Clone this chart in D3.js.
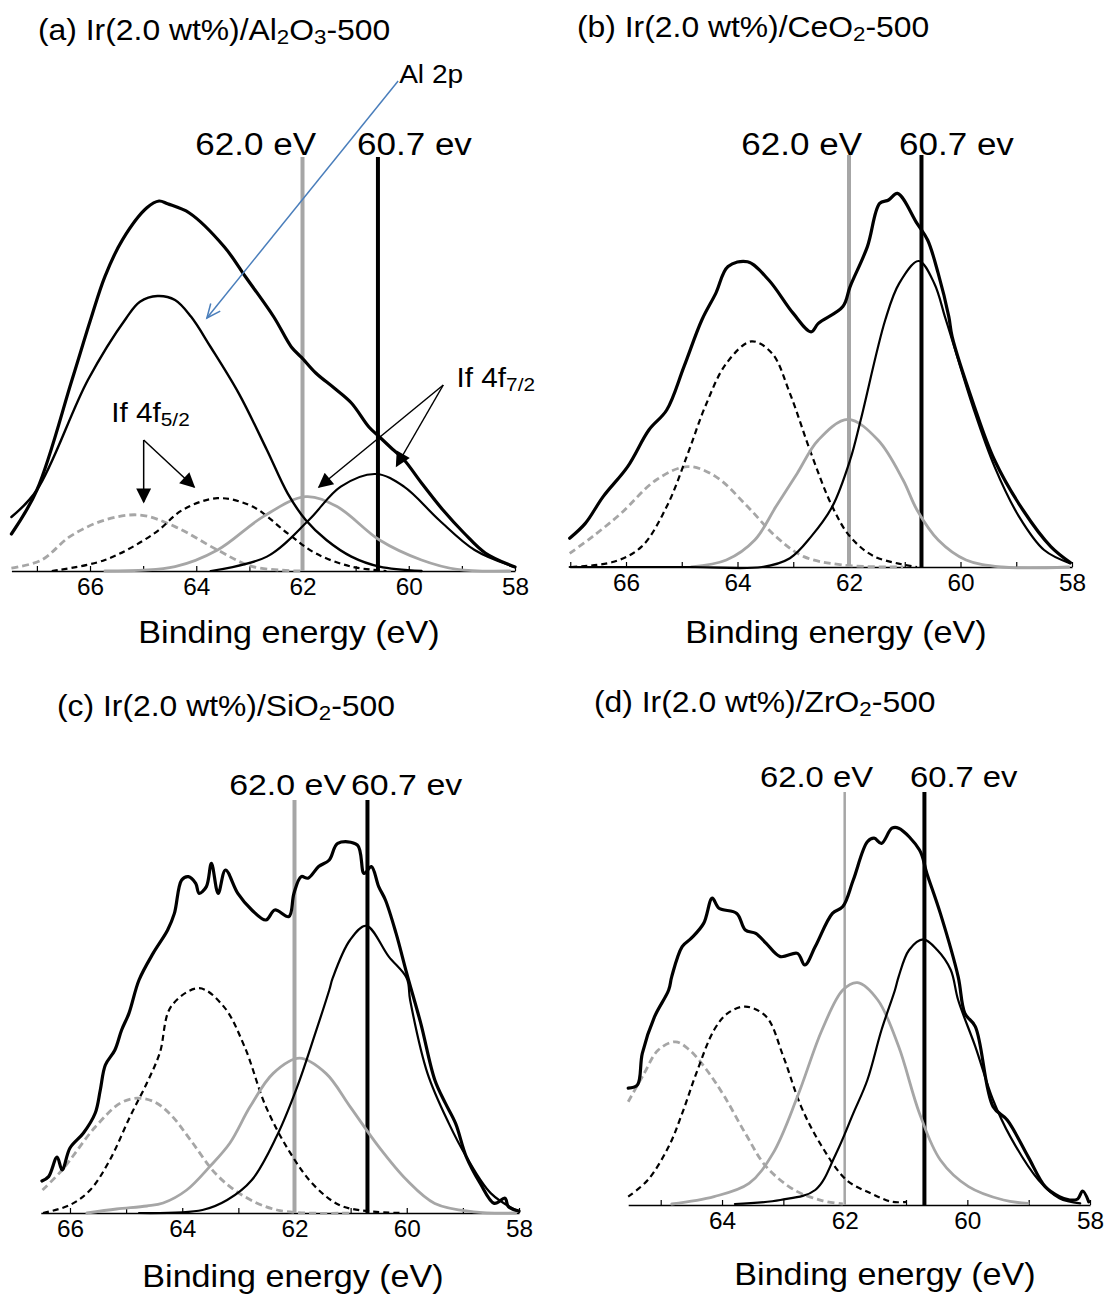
<!DOCTYPE html>
<html><head><meta charset="utf-8">
<script src="https://cdn.jsdelivr.net/npm/d3@7"></script>
<style>
body{margin:0;background:#fff}
svg{display:block}
text{font-family:"Liberation Sans",Arial,Helvetica,sans-serif;fill:#000}
</style>
</head><body>
<svg id="chart" width="1104" height="1294"></svg>
<script>
// ---------------- DATA (binding energy eV, intensity a.u.) ----------------
const tickLabels = [66, 64, 62, 60, 58];
const markerLabels = ["62.0 eV", "60.7 ev"];
const axisTitle = "Binding energy (eV)";

const titleA = [["(a) Ir(2.0 wt%)/Al",0],["2",1],["O",0],["3",1],["-500",0]];
const titleB = [["(b) Ir(2.0 wt%)/CeO",0],["2",1],["-500",0]];
const titleC = [["(c) Ir(2.0 wt%)/SiO",0],["2",1],["-500",0]];
const titleD = [["(d) Ir(2.0 wt%)/ZrO",0],["2",1],["-500",0]];

const markersA = [62.0, 60.58];
const markersB = [62.0, 60.7];
const markersC = [62.0, 60.7];
const markersD = [62.0, 60.7];

// (a) Al2O3
const aEnvelope = [[67.48,9.25],[67.0,20.25],[66.34,47.75],[65.99,62.8],[65.72,73.6],[65.39,82.8],[64.93,90.8],[64.7,92.5],[64.54,91.8],[64.13,89.5],[63.47,81],[63.07,73.5],[62.54,63.5],[62.21,56],[62.05,53.8],[62.01,53.3],[61.75,49.5],[61.41,45.8],[61.08,42],[60.75,36],[60.55,33.5],[60.35,31],[60.09,27.8],[59.76,22],[59.36,15.3],[58.96,9.5],[58.56,4.5],[58.0,1]];
const aAl2p = [[67.48,13.5],[67.0,20.25],[66.04,47.75],[65.32,63.2],[65.06,67.3],[64.73,68.75],[64.4,67.75],[64.1,63.6],[63.73,56],[63.2,44.4],[62.67,30.25],[62.28,19.4],[61.94,12.75],[61.55,7.75],[61.08,3.6],[60.55,1.1],[59.76,0]];
const aGrayDash = [[67.48,0.7],[66.91,2.75],[66.38,8.6],[65.72,12.75],[65.06,14],[64.4,11.1],[63.6,5.25],[62.94,1.1],[62.01,0]];
const aBlackDash = [[66.72,0],[65.72,2.75],[64.79,9.4],[64.26,15.25],[63.6,18.2],[62.94,16.1],[62.28,9.4],[61.75,4.4],[61.08,1.1],[60.42,0]];
const aGraySolid = [[65.72,0],[64.4,1.1],[63.6,5.25],[62.74,13.6],[61.94,18.6],[61.35,16.1],[60.55,7.75],[59.76,2.75],[59.09,0.4],[58.1,0]];
const aBlackSolid = [[63.73,0],[62.67,3.6],[61.88,12.75],[61.28,21.1],[60.62,24.25],[60.09,21.1],[59.43,12.75],[58.76,5.25],[58.03,1.1]];

// (b) CeO2
const bEnvelope = [[67.01,7.2],[66.73,10.9],[66.41,17.6],[65.97,25.1],[65.59,34.25],[65.27,39.25],[64.96,50.1],[64.64,61.75],[64.39,68.4],[64.17,75.1],[63.82,76.3],[63.44,71.75],[63.0,63.4],[62.68,58.8],[62.55,60.9],[62.11,65.1],[61.98,70.1],[61.67,80.1],[61.45,90.9],[61.29,91.75],[61.13,93.4],[60.78,85.9],[60.59,81.75],[60.4,73.4],[60.21,62.6],[60.15,57.6],[59.77,40.9],[59.39,26.75],[58.88,14.25],[58.38,5.1],[58.03,1.1]];
const bGrayDash = [[67.01,3.4],[66.6,7.6],[66.09,13.4],[65.46,21.75],[64.89,25.1],[64.39,22.6],[63.82,15.1],[63.31,7.6],[62.81,2.6],[62.11,0.5],[61.03,0]];
const bBlackDash = [[66.98,0],[66.22,1.3],[65.72,5.1],[65.27,15.1],[64.89,28.4],[64.58,40.1],[64.2,50.9],[63.75,56.4],[63.38,53.4],[63.06,43.4],[62.68,28.4],[62.3,15.1],[61.98,7.6],[61.54,2.6],[60.78,0]];
const bGraySolid = [[64.83,0],[64.2,1.75],[63.69,6.75],[63.31,15.1],[62.93,23.4],[62.55,31.75],[62.02,36.9],[61.48,31.75],[61.03,21.75],[60.78,14.25],[60.4,6.75],[59.9,1.75],[59.26,0],[58.06,0]];
const bBlackSolid = [[67.01,0],[64.83,0],[63.56,0],[63.06,2.2],[62.68,7.6],[62.3,15.1],[61.98,26.75],[61.79,36.75],[61.35,61.75],[61.1,70.9],[60.75,76.5],[60.47,70.9],[60.28,62.6],[60.15,56.75],[59.77,39.7],[59.39,25.1],[58.95,12.6],[58.5,4.25],[58.03,0.9]];

// (c) SiO2
const cEnvelope = [[66.5,8],[66.38,9.1],[66.23,14],[66.14,10.75],[66.0,16.25],[65.76,20],[65.55,25],[65.46,30.75],[65.37,37],[65.2,40.75],[65.08,45.75],[64.95,49.9],[64.77,58.25],[64.52,64.9],[64.26,70.75],[64.14,74.9],[64.01,83.25],[63.89,84.1],[63.76,82.4],[63.7,79.9],[63.57,81.6],[63.48,87.4],[63.36,79.9],[63.23,85.75],[63.01,79.9],[62.76,75.75],[62.51,73.25],[62.35,75.75],[62.1,74.1],[62.01,79.9],[61.88,84.1],[61.76,83.7],[61.57,86.6],[61.38,88.25],[61.23,92.4],[60.88,92],[60.76,84.9],[60.63,86.6],[60.5,81.6],[60.38,78.25],[60.19,69.9],[60.0,59.9],[59.75,47.4],[59.5,33.25],[59.31,27.4],[59.13,22.4],[58.94,14.1],[58.69,7.4],[58.44,2.4],[58.25,3.7],[58.19,1.6],[58.0,0.5]];
const cGrayDash = [[66.49,5.75],[66.14,10.75],[65.55,21.5],[65.1,27.5],[64.8,28.7],[64.5,27.8],[64.2,24.5],[63.84,18.0],[63.39,9.6],[62.89,4.1],[62.26,0.6],[61.01,0]];
const cBlackDash = [[66.48,0],[66.0,2],[65.64,5.75],[65.29,13.25],[64.93,24.1],[64.63,32.5],[64.4,40],[64.2,51.6],[63.7,56.2],[63.26,51.6],[62.89,41.6],[62.51,26.6],[62.07,14.9],[61.63,6.6],[61.13,1.6],[60.07,0]];
const cGraySolid = [[65.7,0],[65.17,1],[64.63,1.75],[64.34,2.5],[63.92,5.75],[63.51,11.6],[63.15,17.5],[62.79,26.6],[62.38,34.9],[61.91,38.7],[61.44,34.9],[61.01,26.6],[60.5,16.6],[60.0,8.25],[59.5,2.4],[58.81,0.3],[58.06,0]];
const cBlackSolid = [[64.77,0],[63.64,0.75],[63.2,3.25],[62.76,8.25],[62.32,19.1],[61.95,31.6],[61.63,44.9],[61.38,55.75],[61.32,58.7],[61.01,68.25],[60.72,71.8],[60.32,64.1],[60.0,58.7],[59.94,53.25],[59.63,34.9],[59.25,22.4],[58.94,14.1],[58.5,4.9],[58.0,0.3]];

// (d) ZrO2
const dEnvelope = [[65.53,29.2],[65.38,30],[65.3,37.9],[65.1,47.1],[64.87,53.75],[64.82,57.1],[64.65,64.6],[64.5,66.7],[64.3,70.4],[64.16,76.7],[64.05,74.2],[63.76,72.9],[63.62,68.75],[63.45,67.9],[63.28,65.4],[63.05,62.1],[62.77,62.9],[62.65,60],[62.48,64.6],[62.2,72.9],[62.03,74.6],[61.86,81.25],[61.63,90.8],[61.52,91.7],[61.4,90.4],[61.23,94.2],[61.12,94.2],[60.78,88.75],[60.66,82.9],[60.44,72.9],[60.15,57.1],[60.04,47.9],[59.87,44.6],[59.58,24.6],[59.35,21.25],[59.01,12.1],[58.73,4.6],[58.5,2.1],[58.33,1.25],[58.2,1.5],[58.12,3.5],[58.02,0.8]];
const dGrayDash = [[65.53,25.8],[65.27,32.9],[65.04,38.75],[64.76,40.8],[64.53,38.75],[64.25,33.75],[63.96,27.1],[63.62,17.9],[63.28,9.6],[62.82,3.75],[62.37,1.1],[62.03,0.25]];
const dBlackDash = [[65.53,2.1],[65.21,6.25],[64.87,14.6],[64.65,22.9],[64.42,32.9],[64.13,43.75],[63.91,47.9],[63.62,49.6],[63.28,47.1],[63.0,37.1],[62.71,24.6],[62.37,14.6],[61.97,6.25],[61.57,2.9],[61.23,0.8],[61.0,0.8]];
const dGraySolid = [[64.82,0.25],[64.13,2.1],[63.56,5.4],[63.17,12.9],[62.77,27.1],[62.37,43.75],[62.03,53.75],[61.79,55.6],[61.46,51.25],[61.12,39.6],[60.78,22.9],[60.44,11.25],[59.98,4.6],[59.41,1.25],[59.01,0.4]];
const dBlackSolid = [[63.79,0.25],[63.05,1.25],[62.48,3.75],[62.14,12.9],[61.86,22.9],[61.63,31.25],[61.4,43.75],[61.18,53.75],[61.12,57.1],[60.95,63.75],[60.72,66.4],[60.49,63.75],[60.27,58.75],[60.15,51.25],[59.87,39.6],[59.58,26.25],[59.3,17.1],[58.84,6.25],[58.5,1.7],[58.16,0.4]];

// annotations in panel (a), data coordinates [E, I]
const al2pLabel = "Al 2p";
const al2pArrow = [[60.2,122.5],[63.8,63.25]];
const f72Label = [["If 4f",0],["7/2",1]];
const f72Pos = [59.1, 46];
const f72Arrows = [[[59.35,46.5],[61.69,21]],[[59.35,46.5],[60.23,26.25]]];
const f52Label = [["If 4f",0],["5/2",1]];
const f52Pos = [65.6, 37.25];
const f52Arrows = [[[64.99,32.75],[64.99,17.25]],[[64.99,32.75],[64.04,21]]];

// ---------------- LAYOUT ----------------
const GRAY = "#a6a6a6";
const panels = [
  {title:titleA, markers:markersA, eMax:67.48, xL:11.4, xR:515, base:571, top:171,
   titlePos:[38,40], xlabPos:[289,643], mkTop:157, mkLabY:155, mkLab:[[316,"end"],[357,"start"]], mkFs:31, grayW:4,
   curves:{env:aEnvelope, al:aAl2p, gd:aGrayDash, bd:aBlackDash, gs:aGraySolid, bs:aBlackSolid}},
  {title:titleB, markers:markersB, eMax:67.01, xL:569.7, xR:1072, base:567, top:167,
   titlePos:[577,37], xlabPos:[836,643], mkTop:155, mkLabY:155, mkLab:[[862,"end"],[899,"start"]], mkFs:31, grayW:4,
   curves:{env:bEnvelope, gd:bGrayDash, bd:bBlackDash, gs:bGraySolid, bs:bBlackSolid}},
  {title:titleC, markers:markersC, eMax:66.52, xL:40.8, xR:519, base:1213, top:813,
   titlePos:[57,716], xlabPos:[293,1287], mkTop:800, mkLabY:795, mkLab:[[346,"end"],[351,"start"]], mkFs:30, grayW:4,
   curves:{env:cEnvelope, gd:cGrayDash, bd:cBlackDash, gs:cGraySolid, bs:cBlackSolid}},
  {title:titleD, markers:markersD, eMax:65.53, xL:628.2, xR:1090, base:1205, top:805,
   titlePos:[594,712], xlabPos:[885,1285], mkTop:792, mkLabY:787, mkLab:[[873,"end"],[910,"start"]], mkFs:29, grayW:2.5,
   curves:{env:dEnvelope, gd:dGrayDash, bd:dBlackDash, gs:dGraySolid, bs:dBlackSolid}}
];

const svg = d3.select("#chart");
const defs = svg.append("defs");
defs.append("marker").attr("id","tri").attr("viewBox","0 0 10 10").attr("refX",9).attr("refY",5)
  .attr("markerUnits","userSpaceOnUse").attr("markerWidth",17).attr("markerHeight",15).attr("orient","auto")
  .append("path").attr("d","M0,0 L10,5 L0,10 Z").attr("fill","#000");

function richText(g, parts, x, y, fs, sx, anchor) {
  const t = g.append("text").attr("transform",`translate(${x},${y}) scale(${sx},1)`)
    .attr("font-size",fs).attr("text-anchor",anchor||"start");
  let shifted = false;
  parts.forEach(([s,sub]) => {
    const ts = t.append("tspan").text(s);
    if (sub && !shifted) { ts.attr("font-size",fs*0.7).attr("dy",fs*0.14); shifted = true; }
    else if (!sub && shifted) { ts.attr("dy",-fs*0.14); shifted = false; }
  });
  return t;
}

panels.forEach((p, idx) => {
  const g = svg.append("g");
  const x = d3.scaleLinear().domain([p.eMax, 58]).range([p.xL, p.xR]);
  const y = d3.scaleLinear().domain([0, 100]).range([p.base, p.top]);

  // title
  richText(g, p.title, p.titlePos[0], p.titlePos[1], 29.5, 1.08, "start");

  // axis
  const ticks = d3.range(58, Math.floor(p.eMax) + 1, 1);
  const axis = d3.axisBottom(x).tickValues(ticks)
    .tickFormat(d => tickLabels.includes(d) ? String(d) : "")
    .tickSize(-5).tickSizeOuter(0).tickPadding(8);
  const ax = g.append("g").attr("transform",`translate(0,${p.base})`).call(axis);
  ax.select(".domain").attr("stroke","#000").attr("stroke-width",1.5);
  ax.selectAll(".tick line").attr("stroke","#000").attr("stroke-width",1.2);
  ax.selectAll(".tick text").attr("font-size",23).attr("fill","#000")
    .attr("font-family",'"Liberation Sans",Arial,sans-serif').attr("transform","scale(1.06,1)");

  // axis title
  g.append("text").attr("transform",`translate(${p.xlabPos[0]},${p.xlabPos[1]}) scale(1.1,1)`)
    .attr("text-anchor","middle").attr("font-size",31).text(axisTitle);

  // marker lines
  g.append("line").attr("x1",x(p.markers[0])).attr("x2",x(p.markers[0])).attr("y1",p.mkTop).attr("y2",p.base)
    .attr("stroke",GRAY).attr("stroke-width",p.grayW);
  g.append("line").attr("x1",x(p.markers[1])).attr("x2",x(p.markers[1])).attr("y1",p.mkTop).attr("y2",p.base)
    .attr("stroke","#000").attr("stroke-width",4);
  markerLabels.forEach((lab,i) => {
    g.append("text").attr("transform",`translate(${p.mkLab[i][0]},${p.mkLabY}) scale(1.13,1)`)
      .attr("text-anchor",p.mkLab[i][1]).attr("font-size",p.mkFs).text(lab);
  });

  const smooth = d3.line().x(d=>x(d[0])).y(d=>y(d[1])).curve(d3.curveCatmullRom.alpha(0.5));
  const c = p.curves;
  const draw = (data, stroke, w, dash) => {
    const path = g.append("path").datum(data).attr("d",smooth).attr("fill","none")
      .attr("stroke",stroke).attr("stroke-width",w).attr("stroke-linejoin","round").attr("stroke-linecap","round");
    if (dash) path.attr("stroke-dasharray",dash).attr("stroke-linecap","butt");
  };
  draw(c.gd, GRAY, 2.8, "7,4");
  draw(c.bd, "#000", 2.2, "6,4");
  draw(c.gs, GRAY, 2.8);
  draw(c.bs, "#000", 2.2);
  if (c.al) draw(c.al, "#000", 2.4);
  draw(c.env, "#000", 3.2);

  if (idx === 0) {
    // Al 2p label and blue arrow
    const s = al2pArrow[0], e = al2pArrow[1];
    g.append("text").attr("transform",`translate(${x(s[0])+1},${y(s[1])+2}) scale(1.08,1)`)
      .attr("font-size",26).text(al2pLabel);
    const x1 = x(s[0]), y1 = y(s[1]), x2 = x(e[0]), y2 = y(e[1]);
    g.append("line").attr("x1",x1).attr("y1",y1).attr("x2",x2).attr("y2",y2)
      .attr("stroke","#4a7ebb").attr("stroke-width",1.5);
    const ang = Math.atan2(y2-y1, x2-x1), L = 15, spread = 0.42;
    const hp = [[x2 - L*Math.cos(ang-spread), y2 - L*Math.sin(ang-spread)],[x2,y2],[x2 - L*Math.cos(ang+spread), y2 - L*Math.sin(ang+spread)]];
    g.append("path").attr("d",d3.line()(hp)).attr("fill","none").attr("stroke","#4a7ebb").attr("stroke-width",1.5);

    // Ir 4f labels with arrows
    richText(g, f72Label, x(f72Pos[0]), y(f72Pos[1]), 27, 1.1, "start");
    richText(g, f52Label, x(f52Pos[0]), y(f52Pos[1]), 27, 1.1, "start");
    [...f72Arrows, ...f52Arrows].forEach(a => {
      g.append("line").attr("x1",x(a[0][0])).attr("y1",y(a[0][1])).attr("x2",x(a[1][0])).attr("y2",y(a[1][1]))
        .attr("stroke","#000").attr("stroke-width",1.5).attr("marker-end","url(#tri)");
    });
  }
});
</script>
</body></html>
